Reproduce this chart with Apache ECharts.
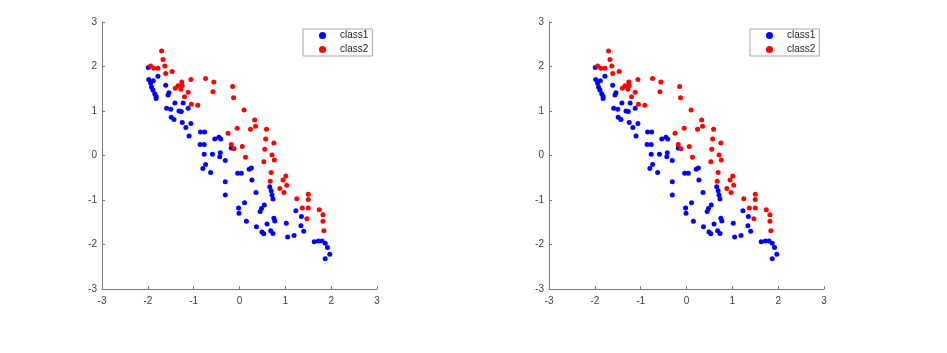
<!DOCTYPE html>
<html>
<head>
<meta charset="utf-8">
<script src="https://cdn.jsdelivr.net/npm/echarts@6/dist/echarts.min.js"></script>
<style>
  html, body { margin: 0; padding: 0; background: #fff; }
  #chart { width: 947px; height: 353px; }
</style>
</head>
<body>
<div id="chart"></div>
<script>
// values (both panels show the same points)
const class1 = [
  [-1.99, 1.98], [-1.78, 1.78], [-1.98, 1.71], [-1.88, 1.68], [-1.94, 1.63],
  [-1.92, 1.54], [-1.89, 1.47], [-1.85, 1.39], [-1.82, 1.33], [-1.82, 1.28],
  [-1.61, 1.58], [-1.54, 1.41], [-1.56, 1.36], [-1.41, 1.18], [-1.23, 1.18],
  [-1.12, 1.06], [-1.59, 1.06], [-1.50, 1.04], [-1.32, 1.00], [-1.27, 0.99],
  [-1.49, 0.86], [-1.43, 0.81], [-1.25, 0.74], [-1.06, 0.72], [-1.17, 0.63],
  [-1.10, 0.44], [-0.85, 0.53], [-0.76, 0.53], [-0.86, 0.25], [-0.77, 0.25],
  [-0.54, 0.37], [-0.45, 0.41], [-0.41, 0.37], [-0.18, 0.17], [-0.77, 0.03],
  [-0.59, 0.03], [-0.42, 0.06], [-0.43, -0.03], [-0.31, -0.11], [-0.74, -0.20],
  [-0.80, -0.29], [-0.63, -0.38], [-0.04, -0.40], [0.04, -0.40], [0.21, -0.31],
  [0.26, -0.28], [0.27, -0.55], [-0.31, -0.59], [-0.31, -0.89], [0.36, -0.83],
  [0.11, -1.06], [-0.02, -1.18], [-0.01, -1.30], [0.15, -1.48], [0.37, -1.60],
  [0.66, -0.70], [0.69, -0.79], [0.71, -0.89], [0.73, -0.98], [0.54, -1.11],
  [0.48, -1.19], [0.45, -1.26], [0.49, -1.72], [0.53, -1.76], [0.60, -1.54],
  [0.68, -1.69], [0.73, -1.75], [0.75, -1.41], [0.77, -1.47], [1.02, -1.52],
  [1.23, -1.24], [1.35, -1.37], [1.34, -1.58], [1.40, -1.70], [1.19, -1.80],
  [1.05, -1.83], [1.63, -1.94], [1.72, -1.92], [1.80, -1.92], [1.87, -1.97],
  [1.92, -2.07], [1.97, -2.22], [1.87, -2.32]
];
const class2 = [
  [-1.70, 2.35], [-1.67, 2.16], [-1.94, 2.01], [-1.87, 1.96], [-1.78, 1.96],
  [-1.63, 2.01], [-1.61, 1.84], [-1.47, 1.89], [-1.06, 1.71], [-0.74, 1.73],
  [-0.56, 1.65], [-0.58, 1.43], [-0.15, 1.55], [-0.13, 1.30], [-1.40, 1.51],
  [-1.34, 1.57], [-1.26, 1.65], [-1.25, 1.57], [-1.28, 1.49], [-1.12, 1.42],
  [-1.20, 1.32], [-1.05, 1.15], [-0.91, 1.13], [0.10, 1.02], [0.33, 0.80],
  [0.35, 0.66], [0.24, 0.59], [-0.05, 0.61], [0.59, 0.59], [-0.25, 0.50],
  [0.57, 0.37], [0.75, 0.28], [-0.18, 0.25], [-0.12, 0.15], [0.06, 0.20],
  [0.55, 0.14], [0.13, -0.04], [0.71, 0.01], [0.76, -0.10], [0.53, -0.14],
  [0.69, -0.38], [0.67, -0.58], [1.01, -0.46], [0.95, -0.55], [1.03, -0.67],
  [0.88, -0.74], [0.97, -0.83], [1.25, -0.97], [1.50, -0.87], [1.50, -0.99],
  [1.37, -1.18], [1.50, -1.18], [1.47, -1.42], [1.74, -1.22], [1.82, -1.33],
  [1.82, -1.48], [1.84, -1.69]
];
const axisTicks = [-3, 3, 1]; // min, max, step
const panelLefts = [102, 549];

const axisColor = '#7a7a7a';
const labelColor = '#404040';
const fontFamily = 'Liberation Sans, Arial, sans-serif';

function makeAxis(isX, gi) {
  return {
    type: 'value',
    gridIndex: gi,
    min: axisTicks[0],
    max: axisTicks[1],
    interval: axisTicks[2],
    axisLine: { show: true, onZero: false, lineStyle: { color: axisColor, width: 1 } },
    axisTick: { show: true, inside: true, length: 3, lineStyle: { color: axisColor } },
    axisLabel: {
      color: labelColor, fontSize: 10, fontFamily: fontFamily,
      margin: isX ? 7 : 5, showMinLabel: true, showMaxLabel: true
    },
    splitLine: { show: false }
  };
}

const chart = echarts.init(document.getElementById('chart'), null, { renderer: 'canvas' });

const grids = [], xAxes = [], yAxes = [], series = [], legends = [];
panelLefts.forEach(function (left, i) {
  grids.push({ left: left, top: 22, width: 275, height: 267 });
  xAxes.push(makeAxis(true, i));
  yAxes.push(makeAxis(false, i));
  series.push({
    name: 'class1', type: 'scatter', xAxisIndex: i, yAxisIndex: i,
    symbol: 'circle', symbolSize: 5, itemStyle: { color: '#0000ff', opacity: 1 },
    data: class1, animation: false
  });
  series.push({
    name: 'class2', type: 'scatter', xAxisIndex: i, yAxisIndex: i,
    symbol: 'circle', symbolSize: 5, itemStyle: { color: '#ff0000', opacity: 1 },
    data: class2, animation: false
  });
  legends.push({
    left: left + 201, top: 29,
    orient: 'vertical',
    data: [{ name: 'class1', icon: 'circle' }, { name: 'class2', icon: 'circle' }],
    itemWidth: 7, itemHeight: 7, itemGap: 3,
    padding: [1, 4, 1, 16],
    borderColor: '#a6a6a6', borderWidth: 1, backgroundColor: '#fff',
    itemStyle: { opacity: 1 },
    textStyle: {
      color: '#262626', fontSize: 10, lineHeight: 11, fontFamily: fontFamily,
      padding: [0, 0, 0, 9]
    },
    selectedMode: false
  });
});

chart.setOption({
  backgroundColor: '#fff',
  animation: false,
  grid: grids,
  xAxis: xAxes,
  yAxis: yAxes,
  legend: legends,
  series: series
});
</script>
</body>
</html>
